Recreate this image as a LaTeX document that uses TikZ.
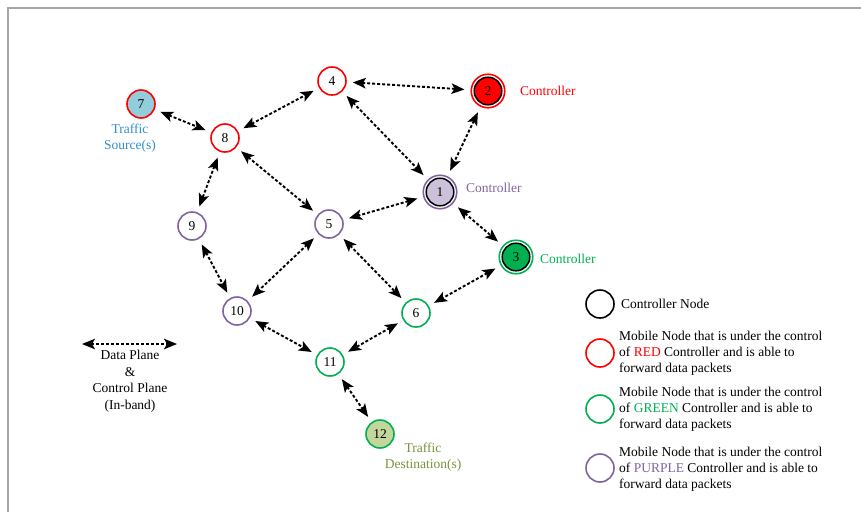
\documentclass[tikz,border=0pt]{standalone}
\usepackage{fontspec}
\setmainfont{Liberation Serif}
\usetikzlibrary{arrows.meta}

\definecolor{cred}{HTML}{FF0000}
\definecolor{cgreen}{HTML}{00B050}
\definecolor{cpurple}{HTML}{8064A2}
\definecolor{fpurple}{HTML}{CCC0DA}
\definecolor{fblue}{HTML}{92CDDC}
\definecolor{folive}{HTML}{C3D69B}
\definecolor{tblue}{HTML}{2E8FCB}
\definecolor{tolive}{HTML}{77933C}
\definecolor{framegray}{HTML}{A6A6A6}

\tikzset{
  txt/.style={font=\fontsize{13.5}{16}\selectfont},
  mnode/.style={circle, draw=#1, line width=1.6pt, minimum size=28pt, inner sep=0pt, fill=white, txt},
  ctrl/.style 2 args={circle, draw=#1, line width=1.6pt, minimum size=33.5pt, inner sep=0pt, txt,
    path picture={\draw[black, line width=1.5pt, fill=#2] (path picture bounding box.center) circle (13.8pt);}},
  link/.style={line width=1.9pt, dash pattern=on 3pt off 2pt,
    {Stealth[length=13pt,width=10.5pt,inset=3pt,sep=0pt]}-{Stealth[length=13pt,width=10.5pt,inset=3pt,sep=0pt]},
    shorten <=6pt, shorten >=6pt},
  legtxt/.style={txt, align=left, anchor=west, inner sep=0pt},
}

\begin{document}
\begin{tikzpicture}[x=1pt,y=-1pt]
\useasboundingbox (0,0) rectangle (861,512);
% frame
\draw[framegray, line width=1.5pt] (8,512) -- (8,8) -- (861,8);

% network nodes
\node[mnode=cred, fill=fblue] (n7) at (141,104) {7};
\node[mnode=cred] (n8) at (225,138) {8};
\node[mnode=cred] (n4) at (332,81) {4};
\node[ctrl={cred}{cred}] (n2) at (488,91) {2};
\node[ctrl={cpurple}{fpurple}] (n1) at (440,192) {1};
\node[ctrl={cgreen}{cgreen}] (n3) at (516,257) {3};
\node[mnode=cpurple] (n5) at (329,224) {5};
\node[mnode=cpurple] (n9) at (192,226) {9};
\node[mnode=cpurple] (n10) at (237,311) {10};
\node[mnode=cgreen] (n6) at (416,313) {6};
\node[mnode=cgreen] (n11) at (330,362) {11};
\node[mnode=cgreen, fill=folive] (n12) at (380,434) {12};

% labels
\node[txt, text=cred, anchor=west, inner sep=0pt] (l2) at (520,91) {Controller};
\node[txt, text=cpurple, anchor=west, inner sep=0pt] (l1) at (466,188) {Controller};
\node[txt, text=cgreen, anchor=west, inner sep=0pt] (l3) at (540,259) {Controller};
\node[txt, text=tblue, align=center, inner sep=0pt] (lsrc) at (130,138) {Traffic\\Source(s)};
\node[txt, text=tolive, align=center, inner sep=0pt] (ldst) at (423,457) {Traffic\\Destination(s)};

% links
\draw[link] (n7) -- (n8);
\draw[link] (n8) -- (n4);
\draw[link] (n4) -- (n2);
\draw[link] (n4) -- (n1);
\draw[link] (n2) -- (n1);
\draw[link] (n8) -- (n9);
\draw[link] (n8) -- (n5);
\draw[link] (n1) -- (n5);
\draw[link] (n1) -- (n3);
\draw[link] (n9) -- (n10);
\draw[link] (n5) -- (n10);
\draw[link] (n5) -- (n6);
\draw[link] (n3) -- (n6);
\draw[link] (n10) -- (n11);
\draw[link] (n6) -- (n11);
\draw[link] (n11) -- (n12);

% link legend
\coordinate (la) at (82,344);
\coordinate (lb) at (177,344);
\draw[link, shorten <=0pt, shorten >=0pt] (la) -- (lb);
\node[txt, align=center, inner sep=0pt, anchor=north] (ltxt) at (130,350) {Data Plane\\[0.5pt]\&\\[0.5pt]Control Plane\\[0.5pt](In-band)};

% node legend
\node[circle, draw=black, line width=1.6pt, minimum size=28pt] (k0) at (600,304) {};
\node[legtxt] (t0) at (621,304) {Controller Node};
\node[circle, draw=cred, line width=1.6pt, minimum size=28pt] (k1) at (600,353) {};
\node[legtxt] (t1) at (619,353) {Mobile Node that is under the control\\of \textcolor{cred}{RED} Controller and is able to\\forward data packets};
\node[circle, draw=cgreen, line width=1.6pt, minimum size=28pt] (k2) at (600,409) {};
\node[legtxt] (t2) at (619,409) {Mobile Node that is under the control\\of \textcolor{cgreen}{GREEN} Controller and is able to\\forward data packets};
\node[circle, draw=cpurple, line width=1.6pt, minimum size=28pt] (k3) at (600,468) {};
\node[legtxt] (t3) at (619,469) {Mobile Node that is under the control\\of \textcolor{cpurple}{PURPLE} Controller and is able to\\forward data packets};
\end{tikzpicture}
\end{document}
